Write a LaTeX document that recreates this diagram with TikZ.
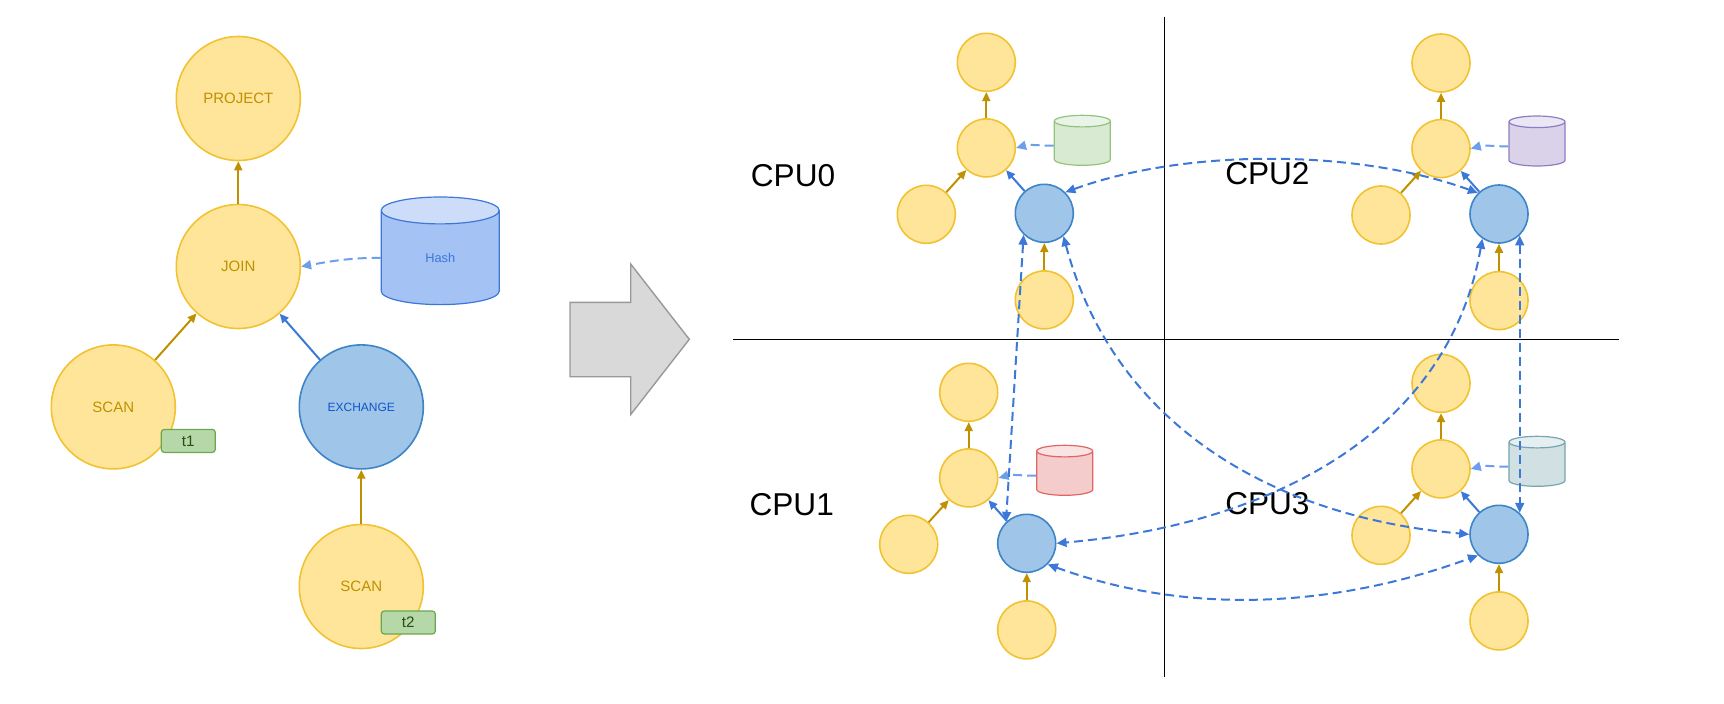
\documentclass[tikz,border=0pt]{standalone}
\usepackage{fontspec}
\setmainfont{Liberation Sans}
\usepackage{tikz}
\usetikzlibrary{arrows.meta,positioning,calc,shapes.geometric}

\definecolor{opFill}{HTML}{FFE599}
\definecolor{opLine}{HTML}{F1C232}
\definecolor{opArrow}{HTML}{BF9000}
\definecolor{exFill}{HTML}{9FC5E8}
\definecolor{exLine}{HTML}{3D85C6}
\definecolor{exArrow}{HTML}{3C78D8}
\definecolor{exText}{HTML}{1155CC}
\definecolor{probeArrow}{HTML}{6D9EEB}
\definecolor{hashBody}{HTML}{A4C2F4}
\definecolor{tagFill}{HTML}{B6D7A8}
\definecolor{tagLine}{HTML}{6AA84F}
\definecolor{tagText}{HTML}{274E13}
\definecolor{bigFill}{HTML}{D9D9D9}
\definecolor{bigLine}{HTML}{999999}
\definecolor{cylGreen}{HTML}{D9EAD3}
\definecolor{cylGreenLine}{HTML}{93C47D}
\definecolor{cylPurple}{HTML}{D9D2E9}
\definecolor{cylPurpleLine}{HTML}{8E7CC3}
\definecolor{cylRed}{HTML}{F4CCCC}
\definecolor{cylRedLine}{HTML}{E06666}
\definecolor{cylTeal}{HTML}{D0E0E3}
\definecolor{cylTealLine}{HTML}{76A5AF}

\tikzset{
  >={Triangle[length=5pt,width=4.4pt]},
  every picture/.append style={line width=0.8pt},
}
\tikzset{
  op/.style={circle, draw=opLine, fill=opFill, inner sep=0pt, text=opArrow, font=\fontsize{7.5}{9}\selectfont},
  ex/.style={circle, draw=exLine, fill=exFill, inner sep=0pt, text=exText, font=\fontsize{6}{7}\selectfont},
  store/.style 2 args={cylinder, shape border rotate=90, aspect=0.9, draw=#1, line width=0.6pt, anchor=shape center,
                       cylinder uses custom fill, cylinder body fill=#2, cylinder end fill=#2!55!white, inner sep=0pt}
}

\begin{document}
\begin{tikzpicture}[
  x=0.5pt, y=-0.5pt,
  opbig/.style  ={op, minimum size=62pt},
  opsmall/.style={op, minimum size=29pt},
  exsmall/.style={ex, minimum size=29pt},
  smallcyl/.style={minimum width=28pt, minimum height=25pt, inner xsep=5pt, aspect=0.58},
  tag/.style    ={draw=tagLine, fill=tagFill, rounded corners=1.5pt, line width=0.6pt, minimum width=27pt,
                  minimum height=11.5pt, inner sep=0pt, text=tagText, font=\fontsize{7.6}{9}\selectfont},
  cpu/.style    ={font=\fontsize{15.8}{19}\selectfont},
  flow/.style   ={-{Triangle[length=4.5pt,width=4pt]}, draw=opArrow, line width=1pt},
  feed/.style   ={-{Triangle[length=4.5pt,width=4pt]}, draw=exArrow, line width=1pt},
  probe/.style  ={-{Triangle[length=5pt,width=4.5pt]}, draw=probeArrow, line width=1pt, dash pattern=on 4.5pt off 2.5pt},
  shuffle/.style={<->, draw=exArrow, line width=1pt, dash pattern=on 4.5pt off 2.5pt},
  divider/.style={draw=black, line width=0.6pt},
  bigarrow/.style={draw=bigLine, fill=bigFill, line width=0.7pt}
]
\useasboundingbox (0,0) rectangle (1724,703);

% Plan on the left
\node[opbig] (join) at (238.3,266.5) {JOIN};
\node[opbig] (project) at ([yshift=84pt]join.center) {PROJECT};
\node[opbig] (scanA) at ([xshift=-62.5pt,yshift=-70.2pt]join.center) {SCAN};
\node[ex, minimum size=62pt] (xchg) at ([xshift=61.5pt,yshift=-70.2pt]join.center) {EXCHANGE};
\node[opbig] (scanB) at ([yshift=-89.8pt]xchg.center) {SCAN};
\node[tag] (tagA) at ([xshift=37.5pt,yshift=-17pt]scanA.center) {t1};
\node[tag] (tagB) at ([xshift=23.5pt,yshift=-18pt]scanB.center) {t2};
\node[store={exArrow}{hashBody}, minimum width=59pt, minimum height=53.8pt, text=exArrow,
      font=\fontsize{6.4}{8}\selectfont] (hash) at (440.2,250.8) {Hash};

\draw[flow] (join) -- (project);
\draw[flow] (scanA) -- (join);
\draw[feed] (xchg) -- (join);
\draw[flow] (scanB) -- (xchg);
\draw[probe] (hash.west) to[out=180,in=10] (join.east);

% Big arrow between the two halves
\draw[bigarrow] (570,302.3) -- (630.7,302.3) -- (630.7,264) -- (689.3,339.3) -- (630.7,414.5)
  -- (630.7,376.7) -- (570,376.7) -- cycle;

% Quadrant lines
\draw[divider] (1164.3,16.5) -- (1164.3,677.3);
\draw[divider] (733.4,339.3) -- (1619.3,339.3);

% CPU labels
\node[cpu] (cpu0) at (793,176) {CPU0};
\node[cpu] (cpu1) at (791.7,505) {CPU1};
\node[cpu] (cpu2) at (1267.4,173.4) {CPU2};
\node[cpu] (cpu3) at (1267.4,503.4) {CPU3};

% CPU0 fragment
\node[exsmall] (blue0) at (1044.3,213.3) {};
\node[opsmall] (mid0) at ([xshift=-29pt,yshift=32.7pt]blue0.center) {};
\node[opsmall] (top0) [above=13pt of mid0] {};
\node[opsmall] (left0) at ([xshift=-59pt,yshift=-0.5pt]blue0.center) {};
\node[opsmall] (bot0) [below=13.5pt of blue0] {};
\node[store={cylGreenLine}{cylGreen}, smallcyl] (cyl0) at ([xshift=19pt,yshift=36.5pt]blue0.center) {};

% CPU1 fragment
\node[exsmall] (blue1) at (1026.7,543.3) {};
\node[opsmall] (mid1) at ([xshift=-29pt,yshift=32.7pt]blue1.center) {};
\node[opsmall] (top1) [above=13pt of mid1] {};
\node[opsmall] (left1) at ([xshift=-59pt,yshift=-0.5pt]blue1.center) {};
\node[opsmall] (bot1) [below=13.5pt of blue1] {};
\node[store={cylRedLine}{cylRed}, smallcyl] (cyl1) at ([xshift=19pt,yshift=36.5pt]blue1.center) {};

% CPU2 fragment
\node[exsmall] (blue2) at (1499,214) {};
\node[opsmall] (mid2) at ([xshift=-29pt,yshift=32.7pt]blue2.center) {};
\node[opsmall] (top2) [above=13pt of mid2] {};
\node[opsmall] (left2) at ([xshift=-59pt,yshift=-0.5pt]blue2.center) {};
\node[opsmall] (bot2) [below=13.5pt of blue2] {};
\node[store={cylPurpleLine}{cylPurple}, smallcyl] (cyl2) at ([xshift=19pt,yshift=36.5pt]blue2.center) {};

% CPU3 fragment
\node[exsmall] (blue3) at (1499,534.3) {};
\node[opsmall] (mid3) at ([xshift=-29pt,yshift=32.7pt]blue3.center) {};
\node[opsmall] (top3) [above=13pt of mid3] {};
\node[opsmall] (left3) at ([xshift=-59pt,yshift=-0.5pt]blue3.center) {};
\node[opsmall] (bot3) [below=13.5pt of blue3] {};
\node[store={cylTealLine}{cylTeal}, smallcyl] (cyl3) at ([xshift=19pt,yshift=36.5pt]blue3.center) {};

% Edges inside each fragment
\draw[flow] (mid0) -- (top0);
\draw[flow] (left0) -- (mid0);
\draw[feed] (blue0) -- (mid0);
\draw[flow] (bot0) -- (blue0);
\draw[probe] (cyl0.west) to[out=180,in=15] (mid0.east);

\draw[flow] (mid1) -- (top1);
\draw[flow] (left1) -- (mid1);
\draw[feed] (blue1) -- (mid1);
\draw[flow] (bot1) -- (blue1);
\draw[probe] (cyl1.west) to[out=180,in=15] (mid1.east);

\draw[flow] (mid2) -- (top2);
\draw[flow] (left2) -- (mid2);
\draw[feed] (blue2) -- (mid2);
\draw[flow] (bot2) -- (blue2);
\draw[probe] (cyl2.west) to[out=180,in=15] (mid2.east);

\draw[flow] (mid3) -- (top3);
\draw[flow] (left3) -- (mid3);
\draw[feed] (blue3) -- (mid3);
\draw[flow] (bot3) -- (blue3);
\draw[probe] (cyl3.west) to[out=180,in=15] (mid3.east);

% Exchanges talk to each other
\draw[shuffle] (blue0.45) to[out=20,in=160,looseness=0.8] (blue2.135);
\draw[shuffle] (blue0.226) -- (blue1.134);
\draw[shuffle] (blue0.310) to[out=-75,in=175] (blue3.west);
\draw[shuffle] (blue2.236) to[out=-100,in=5] (blue1.east);
\draw[shuffle] (blue2.-46) -- (blue3.46);
\draw[shuffle] (blue1.-45) to[out=-20,in=-160,looseness=0.9] (blue3.-135);

\end{tikzpicture}
\end{document}
